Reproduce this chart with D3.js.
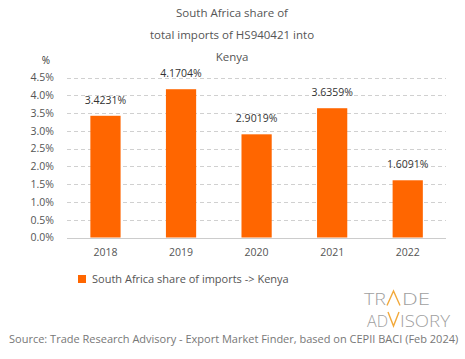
<!DOCTYPE html>
<html><head><meta charset="utf-8">
<script src="https://cdn.jsdelivr.net/npm/d3@7"></script>
<style>body{margin:0;background:#fff}svg text{font-family:"Open Sans",sans-serif}</style>
</head><body>
<svg id="c" width="465" height="359"></svg>
<script>
const years = ["2018","2019","2020","2021","2022"];
const shares = [3.4231, 4.1704, 2.9019, 3.6359, 1.6091];
const yTicks = [0,0.5,1,1.5,2,2.5,3,3.5,4,4.5];
const titleLines = ["South Africa share of","total imports of HS940421 into","Kenya"];
const seriesName = "South Africa share of imports -> Kenya";
const source = "Source: Trade Research Advisory - Export Market Finder, based on CEPII BACI (Feb 2024)";

const svg = d3.select("#c");
const orange = "#ff6600", txt = "#555";
const x = d3.scaleBand().domain(years).range([67.7,445.5]).paddingInner(0.6).paddingOuter(0.3);
const y = d3.scaleLinear().domain([0,4.5]).range([237.5,77.5]);

svg.selectAll(".t").data(titleLines).enter().append("text")
  .attr("x",232).attr("y",(d,i)=>17+i*22).attr("text-anchor","middle")
  .attr("font-size",11.5).attr("fill",txt).text(d=>d);
svg.append("text").attr("x",46).attr("y",64).attr("text-anchor","middle").attr("font-size",10).attr("fill","#333").text("%");

// grid
svg.append("g").selectAll("line").data(yTicks.filter(d=>d>0)).enter().append("line")
  .attr("x1",67).attr("x2",446).attr("y1",d=>Math.round(y(d))+0.5).attr("y2",d=>Math.round(y(d))+0.5)
  .attr("stroke","#d0d0d0").attr("stroke-dasharray","4,3");
svg.append("line").attr("x1",67).attr("x2",446).attr("y1",Math.round(y(0))+0.5).attr("y2",Math.round(y(0))+0.5).attr("stroke","#ccc");

const yAxis = svg.append("g").attr("transform","translate(54,0)")
  .call(d3.axisLeft(y).tickValues(yTicks).tickSize(0).tickPadding(0).tickFormat(d=>d.toFixed(1)+"%"));
yAxis.select(".domain").remove();
yAxis.selectAll("text").attr("font-size",10.5).attr("fill",txt).style("font-family","Open Sans");

const xAxis = svg.append("g").attr("transform","translate(0,249)")
  .call(d3.axisBottom(x).tickSize(0).tickPadding(0));
xAxis.select(".domain").remove();
xAxis.selectAll("text").attr("font-size",10.5).attr("fill",txt).attr("dy","0.71em").style("font-family","Open Sans");

svg.selectAll(".bar").data(years).enter().append("rect")
  .attr("x",d=>x(d)).attr("width",x.bandwidth())
  .attr("y",(d,i)=>y(shares[i])).attr("height",(d,i)=>y(0)-y(shares[i]))
  .attr("fill",orange);
svg.selectAll(".lbl").data(years).enter().append("text")
  .attr("x",d=>x(d)+x.bandwidth()/2).attr("y",(d,i)=>y(shares[i])-12)
  .attr("text-anchor","middle").attr("font-size",10.5).attr("fill","#333")
  .text((d,i)=>shares[i].toFixed(4)+"%");

// legend
svg.append("rect").attr("x",78).attr("y",275).attr("width",8).attr("height",8).attr("fill",orange);
svg.append("text").attr("x",92).attr("y",283).attr("font-size",11).attr("fill",txt).text(seriesName);

// logo
const lg = svg.append("g").attr("fill","#9f9f9f").style("font-family","Roboto").attr("font-weight",300);
lg.append("text").attr("x",364).attr("y",305).attr("font-size",16).attr("textLength",22).attr("lengthAdjust","spacingAndGlyphs").text("TR");
lg.append("text").attr("x",402).attr("y",305).attr("font-size",16).attr("textLength",28).attr("lengthAdjust","spacingAndGlyphs").text("DE");
lg.append("text").attr("x",367).attr("y",326.5).attr("font-size",16).attr("textLength",21).attr("lengthAdjust","spacingAndGlyphs").text("AD");
lg.append("text").attr("x",400).attr("y",326.5).attr("font-size",16).attr("textLength",50).attr("lengthAdjust","spacingAndGlyphs").text("ISORY");
svg.append("path").attr("d","M387,305.5 L393.5,291 L400,305.5 M388,312 L393.5,326 L399,312")
  .attr("fill","none").attr("stroke","#f2a93b").attr("stroke-width",1.4);

svg.append("text").attr("x",9).attr("y",343).attr("font-size",11).attr("fill","#777").text(source);
</script>
</body></html>
